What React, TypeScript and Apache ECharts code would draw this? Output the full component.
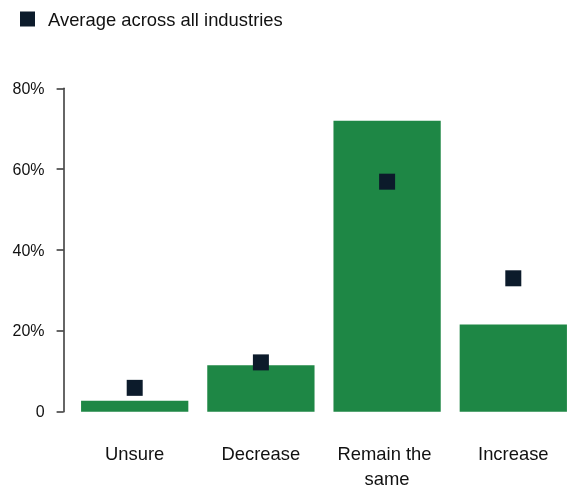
import React, { useEffect, useRef } from "react";
import * as echarts from "echarts";

const categories = ["Unsure", "Decrease", "Remain the same", "Increase"];
const industryValues = [2.7, 11.5, 72, 21.6];
const averageValues = [5.9, 12.2, 56.9, 33];
const yTicks = [0, 20, 40, 60, 80];
const legendName = "Average across all industries";

const FONT = "'Liberation Sans', Arial, Helvetica, sans-serif";

export default function App() {
  const ref = useRef<HTMLDivElement>(null);
  useEffect(() => {
    if (!ref.current) return;
    const chart = echarts.init(ref.current, undefined, { renderer: "svg" });
    chart.setOption({
      animation: false,
      textStyle: { fontFamily: FONT },
      legend: {
        data: [{ name: legendName, icon: "rect", itemStyle: { opacity: 1 } }],
        left: 20,
        top: 10,
        padding: 0,
        itemWidth: 15,
        itemHeight: 15,
        textStyle: { fontSize: 18.4, color: "#111", fontFamily: FONT, padding: [0, 0, 0, 8] },
      },
      grid: {
        left: 71.6,
        width: 504.8,
        top: 88.3,
        bottom: 74.3,
        containLabel: false,
        outerBoundsMode: "none",
      },
      xAxis: {
        type: "category",
        data: categories,
        axisLine: { show: false },
        axisTick: { show: false },
        axisLabel: {
          interval: 0,
          fontSize: 18.4,
          color: "#111",
          fontFamily: FONT,
          lineHeight: 24.5,
          margin: 30,
          width: 112,
          overflow: "break",
        },
      },
      yAxis: {
        type: "value",
        min: yTicks[0],
        max: yTicks[yTicks.length - 1],
        interval: 20,
        offset: 8,
        splitLine: { show: false },
        axisLine: { show: true, lineStyle: { color: "#333", width: 1.5 } },
        axisTick: { show: true, length: 7, lineStyle: { color: "#333", width: 1.5 } },
        axisLabel: {
          fontSize: 16,
          color: "#111",
          fontFamily: FONT,
          margin: 19,
          formatter: (v: number) => (v === 0 ? "0" : v + "%"),
        },
      },
      series: [
        {
          type: "bar",
          name: "Industry",
          data: industryValues,
          barCategoryGap: "15%",
          itemStyle: { color: "#1e8745" },
          z: 2,
        },
        {
          type: "scatter",
          name: legendName,
          data: averageValues,
          symbol: "rect",
          symbolSize: 16,
          itemStyle: { color: "#0c1b2b", opacity: 1 },
          z: 3,
        },
      ],
    });
    return () => chart.dispose();
  }, []);
  return (
    <div style={{ position: "fixed", left: 0, top: 0, width: 569, height: 486, overflow: "hidden" }}>
      <div ref={ref} style={{ width: 577, height: 486 }} />
    </div>
  );
}
